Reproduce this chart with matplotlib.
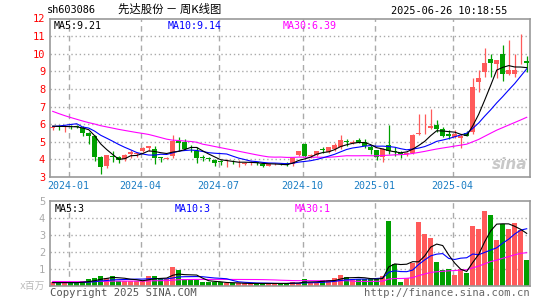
import numpy as np
import pandas as pd
import matplotlib
matplotlib.use('Agg')
import matplotlib.pyplot as plt

# 先达股份 周K线, 80 weeks (2023-12 .. 2025-06-26)
opens = [5.78, 5.88, 5.82, 5.92, 5.88, 5.80, 5.50, 5.31, 4.14, 3.62,
         4.22, 4.14, 4.04, 4.29, 4.30, 4.46, 4.66, 4.57, 4.12, 4.05,
         4.20, 5.02, 4.99, 4.72, 4.46, 4.12, 4.10, 3.95, 3.90, 3.84,
         3.87, 3.78, 3.76, 3.78, 3.84, 3.76, 3.64, 3.72, 3.76, 3.80,
         3.74, 4.23, 4.89, 4.17, 4.23, 4.60, 4.42, 4.60, 4.70, 5.05,
         4.92, 5.10, 4.99, 4.72, 4.52, 4.14, 4.80, 4.44, 4.38, 4.28,
         4.36, 5.46, 5.60, 5.80, 5.94, 5.75, 5.42, 5.27, 5.23, 5.50,
         5.56, 8.40, 8.97, 9.72, 9.40, 10.00, 8.83, 8.87, 9.46, 9.60]
highs = [5.90, 5.94, 5.95, 5.98, 5.96, 5.88, 5.55, 5.40, 4.20, 4.26,
         4.50, 4.18, 4.30, 4.55, 4.36, 4.68, 4.76, 4.74, 4.16, 4.13,
         5.36, 5.27, 5.18, 4.80, 4.70, 4.23, 4.14, 4.04, 3.95, 4.04,
         3.98, 3.95, 3.88, 3.90, 3.88, 3.80, 3.74, 3.80, 3.80, 3.84,
         4.13, 4.50, 4.93, 4.30, 4.50, 4.70, 4.72, 4.95, 5.40, 5.18,
         5.12, 5.20, 5.18, 4.80, 4.55, 4.65, 5.94, 4.70, 4.45, 4.42,
         5.45, 6.56, 6.56, 6.88, 6.26, 5.84, 5.65, 5.65, 5.45, 5.60,
         8.60, 9.06, 10.30, 10.00, 9.67, 10.50, 10.80, 10.00, 11.10, 9.85]
lows = [5.66, 5.65, 5.54, 5.74, 5.78, 5.33, 4.89, 3.91, 3.19, 3.51,
        3.87, 3.80, 3.90, 4.10, 4.13, 4.44, 4.50, 3.76, 3.85, 4.00,
        4.10, 4.50, 4.52, 4.42, 3.80, 3.89, 3.89, 3.62, 3.70, 3.57,
        3.76, 3.57, 3.66, 3.68, 3.66, 3.58, 3.60, 3.66, 3.68, 3.62,
        3.63, 4.20, 4.14, 4.10, 4.20, 4.36, 4.38, 4.50, 4.60, 4.76,
        4.88, 4.92, 4.65, 4.33, 3.98, 3.85, 4.33, 4.20, 4.10, 4.20,
        4.29, 5.37, 5.45, 5.75, 5.56, 5.27, 5.18, 5.20, 4.67, 5.30,
        5.46, 7.83, 8.68, 8.68, 8.60, 8.45, 8.78, 8.68, 9.40, 8.97]
closes = [5.84, 5.82, 5.88, 5.87, 5.83, 5.52, 5.33, 4.14, 3.57, 4.23,
          4.12, 3.99, 4.27, 4.42, 4.33, 4.65, 4.74, 4.10, 4.08, 4.10,
          5.05, 4.95, 4.61, 4.68, 4.10, 4.08, 4.05, 3.80, 3.87, 3.87,
          3.84, 3.82, 3.80, 3.82, 3.78, 3.64, 3.72, 3.74, 3.72, 3.66,
          4.10, 4.48, 4.17, 4.25, 4.48, 4.55, 4.70, 4.80, 5.12, 4.99,
          4.95, 4.95, 4.75, 4.55, 4.12, 4.60, 4.46, 4.42, 4.28, 4.36,
          5.38, 5.50, 5.60, 5.90, 5.75, 5.32, 5.31, 5.45, 5.30, 5.35,
          8.10, 8.60, 9.48, 9.50, 9.67, 8.87, 9.10, 9.10, 9.48, 9.50]
volumes = [0.21, 0.19, 0.21, 0.19, 0.19, 0.31, 0.41, 0.45, 0.60, 0.46,
           0.60, 0.31, 0.31, 0.31, 0.31, 0.31, 0.60, 0.60, 0.41, 0.41,
           1.13, 0.96, 0.43, 0.35, 0.35, 0.21, 0.21, 0.25, 0.21, 0.15,
           0.15, 0.15, 0.15, 0.15, 0.15, 0.15, 0.15, 0.15, 0.15, 0.15,
           0.24, 0.18, 0.42, 0.20, 0.20, 0.36, 0.35, 0.50, 0.65, 0.55,
           0.40, 0.42, 0.40, 0.40, 0.40, 0.60, 3.80, 1.30, 0.21, 0.50,
           1.35, 3.74, 3.05, 2.80, 1.39, 0.92, 0.98, 0.66, 0.98, 0.74,
           3.55, 3.36, 4.39, 4.17, 2.73, 3.64, 3.34, 3.68, 3.27, 1.55]

# weeks before the first candle (not drawn, only feed the moving averages)
prev_closes = [9.6, 9.4, 9.1, 8.8, 8.5, 8.1, 6.5, 6.4, 6.3, 6.2,
               6.1, 6.1, 6.2, 6.1, 6.2, 6.5, 6.7, 6.8, 6.8, 6.7,
               5.6, 5.5, 5.4, 5.4, 7.4, 5.9, 5.9, 5.9, 5.9]
prev_volumes = [0.3] * 20 + [0.2] * 9

tick_pos = [3, 15, 28, 42, 54, 67]
tick_labels = ['2024-01', '2024-04', '2024-07', '2024-10', '2025-01', '2025-04']

UP = '#ff5a5a'
DOWN = '#00a000'
GRID = '#aaaaaa'
FRAME = '#999999'
MONO = 'DejaVu Sans Mono'

n = len(closes)
x = np.arange(n)
o = np.array(opens); h = np.array(highs); l = np.array(lows); c = np.array(closes)
v = np.array(volumes)
up = c >= o
colors = [UP if u else DOWN for u in up]

cs = pd.Series(prev_closes + closes)
vs = pd.Series(prev_volumes + volumes)
k = len(prev_closes)
ma = {w: cs.rolling(w).mean().values[k:] for w in (5, 10, 30)}
vma = {w: vs.rolling(w).mean().values[k:] for w in (5, 10, 30)}
ma_colors = {5: 'black', 10: '#0000ff', 30: '#ff00ff'}

W, H = 545, 300
fig = plt.figure(figsize=(W / 100, H / 100), dpi=100)
fig.patch.set_facecolor('white')


def box(x0, y0, x1, y1):
    return [x0 / W, 1 - y1 / H, (x1 - x0) / W, (y1 - y0) / H]


ax = fig.add_axes(box(50, 18.5, 530, 177))
axv = fig.add_axes(box(50, 201, 530, 286))

for a in (ax, axv):
    a.set_xlim(-0.45, n - 0.45)
    for s in a.spines.values():
        s.set_color(FRAME)
        s.set_linewidth(1.2)
    a.set_xticks([])
    a.tick_params(axis='y', length=0, pad=3.5)
    for p in tick_pos:
        a.axvline(p - 0.35, color=GRID, lw=1, ls=(0, (4, 3)), zorder=0)

# price panel
ax.set_ylim(3, 12)
ax.set_yticks(range(3, 13))
ax.set_yticklabels([str(t) for t in range(3, 13)], color='red',
                   fontfamily=MONO, fontsize=7.5)
for t in range(4, 12):
    ax.axhline(t, color=GRID, lw=1, ls=(0, (1, 2)), zorder=0)

body_h = np.maximum(np.abs(c - o), 0.04)
ax.vlines(x, l, h, colors=colors, lw=0.9, zorder=2)
ax.bar(x, body_h, bottom=np.minimum(o, c), width=0.75, color=colors,
       lw=0, zorder=3)
for w in (30, 10, 5):
    ax.plot(x, ma[w], color=ma_colors[w], lw=0.8, zorder=4)

ax.text(4 / 480, 0.985, f'MA5:{ma[5][-1]:.2f}', transform=ax.transAxes,
        color='black', fontfamily=MONO, fontsize=7.2, va='top')
ax.text(118 / 480, 0.985, f'MA10:{ma[10][-1]:.2f}', transform=ax.transAxes,
        color='#0000ff', fontfamily=MONO, fontsize=7.2, va='top')
ax.text(233 / 480, 0.985, f'MA30:{ma[30][-1]:.2f}', transform=ax.transAxes,
        color='#ff00ff', fontfamily=MONO, fontsize=7.2, va='top')
ax.text(0.995, 0.03, 'sina', transform=ax.transAxes, ha='right', va='bottom',
        fontsize=11, fontweight='bold', fontstyle='italic', color='#c8c8c8',
        fontfamily='DejaVu Sans')

# volume panel
axv.set_ylim(0, 5)
axv.set_yticks(range(1, 6))
axv.set_yticklabels([str(t) for t in range(1, 6)], color='#aaaaaa',
                    fontfamily=MONO, fontsize=7.5)
for t in range(1, 5):
    axv.axhline(t, color=GRID, lw=1, ls=(0, (1, 2)), zorder=0)
axv.bar(x, v, width=0.78, color=colors, lw=0, zorder=2)
for w in (30, 10, 5):
    axv.plot(x, vma[w], color=ma_colors[w], lw=0.8, zorder=3)
axv.text(5 / 480, 0.96, f'MA5:{int(vma[5][-1])}', transform=axv.transAxes,
         color='black', fontfamily=MONO, fontsize=7.2, va='top')
axv.text(125 / 480, 0.96, f'MA10:{int(vma[10][-1])}', transform=axv.transAxes,
         color='#0000ff', fontfamily=MONO, fontsize=7.2, va='top')
axv.text(245 / 480, 0.96, f'MA30:{int(vma[30][-1])}', transform=axv.transAxes,
         color='#ff00ff', fontfamily=MONO, fontsize=7.2, va='top')

# month labels between the panels
for p, lab in zip(tick_pos, tick_labels):
    xp = 50 + (p - 0.35 + 0.45) * 6.0
    fig.text(xp / W, 1 - 186 / H, lab, ha='center', va='center',
             color='#1a7dc4', fontfamily=MONO, fontsize=7.2)

# header
fig.text(47 / W, 1 - 10 / H, 'sh603086', ha='left', va='center',
         fontfamily=MONO, fontsize=7.4, color='black')
fig.text(170 / W, 1 - 9.5 / H, '先达股份 － 周K线图', ha='center', va='center',
         fontfamily=['Noto Sans CJK SC', 'DejaVu Sans'], fontsize=8.2,
         color='black')
fig.text(507 / W, 1 - 11 / H, '2025-06-26 10:18:55', ha='right', va='center',
         fontfamily=MONO, fontsize=7.4, color='black')

# footer
fig.text(45 / W, 1 - 286 / H, 'x百万', ha='right', va='center',
         fontfamily=['DejaVu Sans Mono', 'Noto Sans CJK SC'], fontsize=7,
         color='#bbbbbb')
fig.text(50 / W, 1 - 292.5 / H, 'Copyright 2025 SINA.COM', ha='left',
         va='center', fontfamily=MONO, fontsize=7.6, color='#555555')
fig.text(530 / W, 1 - 292.5 / H, 'http://finance.sina.com.cn', ha='right',
         va='center', fontfamily=MONO, fontsize=7.6, color='#666666')

fig.savefig('out.png', dpi=100)
